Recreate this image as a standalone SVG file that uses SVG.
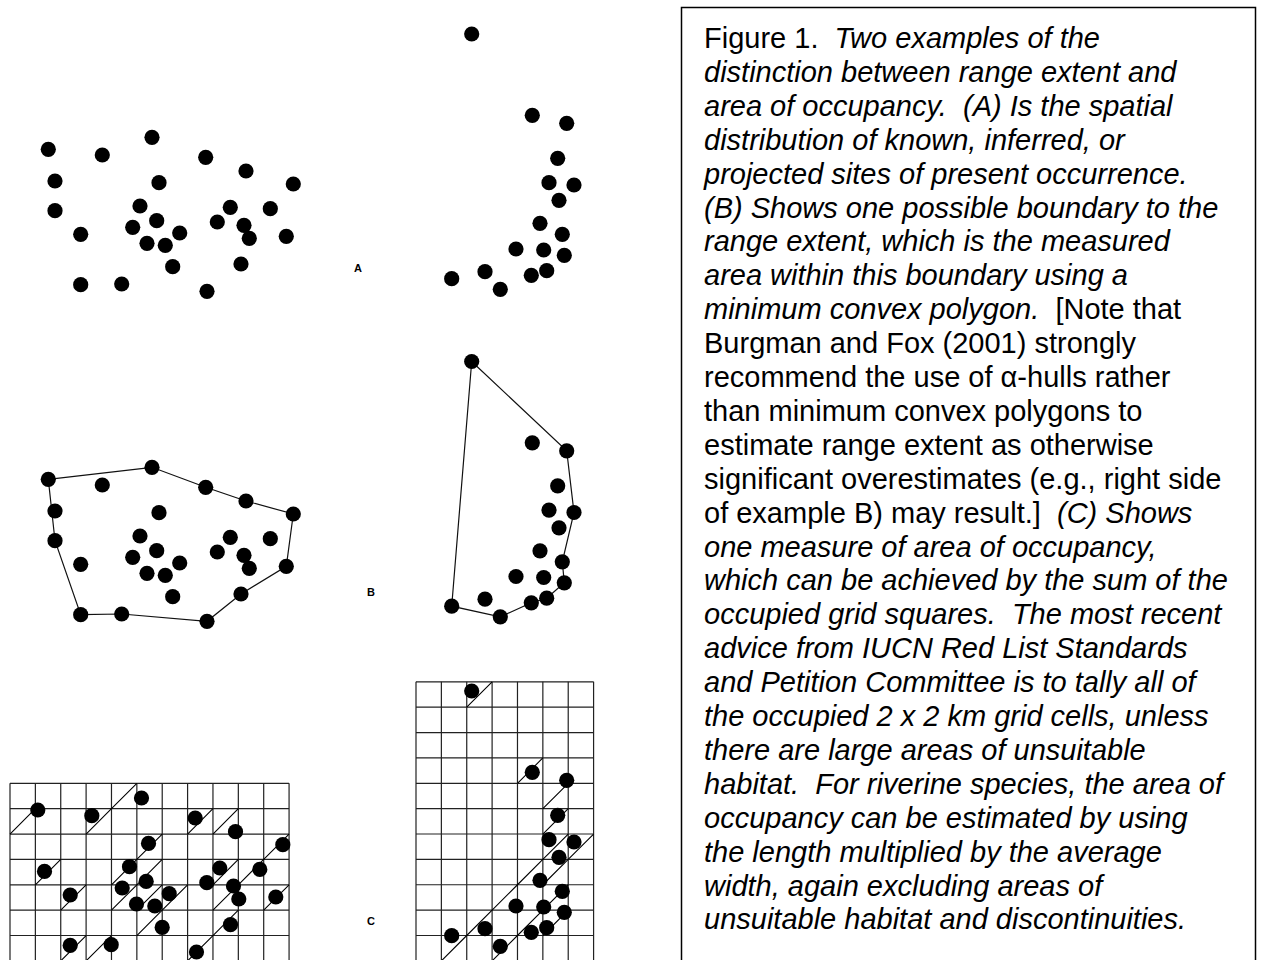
<svg xmlns="http://www.w3.org/2000/svg" xmlns:xlink="http://www.w3.org/1999/xlink" width="1261" height="960" viewBox="0 0 1261 960">
<style>
.dot{fill:#000}
.hull{fill:none;stroke:#111;stroke-width:1.2}
.grid{fill:none;stroke:#222;stroke-width:1.2}
.diag{fill:none;stroke:#000;stroke-width:1.1}
.lbl{font-family:"Liberation Sans",Arial,sans-serif;font-size:11px;font-weight:bold;text-anchor:middle}
.cap{font-family:"Liberation Sans",Arial,sans-serif;font-size:29px;fill:#000}
.it{font-style:italic}
.box{fill:none;stroke:#000;stroke-width:1.5}
</style>
<defs>
<g id="leftDots">
<circle class="dot" cx="48.3" cy="149.3" r="7.6"/>
<circle class="dot" cx="102.3" cy="155" r="7.6"/>
<circle class="dot" cx="152" cy="137.3" r="7.6"/>
<circle class="dot" cx="205.7" cy="157.3" r="7.6"/>
<circle class="dot" cx="246" cy="171" r="7.6"/>
<circle class="dot" cx="293.3" cy="184" r="7.6"/>
<circle class="dot" cx="159" cy="182.7" r="7.6"/>
<circle class="dot" cx="55" cy="210.7" r="7.6"/>
<circle class="dot" cx="140" cy="206" r="7.6"/>
<circle class="dot" cx="230.3" cy="207.3" r="7.6"/>
<circle class="dot" cx="270.3" cy="208.7" r="7.6"/>
<circle class="dot" cx="156.7" cy="220.7" r="7.6"/>
<circle class="dot" cx="132.7" cy="227.3" r="7.6"/>
<circle class="dot" cx="217.3" cy="222" r="7.6"/>
<circle class="dot" cx="244" cy="225.3" r="7.6"/>
<circle class="dot" cx="179.7" cy="233" r="7.6"/>
<circle class="dot" cx="80.7" cy="234.3" r="7.6"/>
<circle class="dot" cx="249.3" cy="238.3" r="7.6"/>
<circle class="dot" cx="286.3" cy="236.3" r="7.6"/>
<circle class="dot" cx="147" cy="243.3" r="7.6"/>
<circle class="dot" cx="165.3" cy="245.3" r="7.6"/>
<circle class="dot" cx="172.7" cy="266.7" r="7.6"/>
<circle class="dot" cx="241" cy="264" r="7.6"/>
<circle class="dot" cx="80.7" cy="284.7" r="7.6"/>
<circle class="dot" cx="121.7" cy="284" r="7.6"/>
<circle class="dot" cx="207" cy="291.3" r="7.6"/>
</g>
<circle id="extraDot" class="dot" cx="55" cy="181" r="7.6"/>
<g id="rightDots">
<circle class="dot" cx="471.7" cy="34" r="7.6"/>
<circle class="dot" cx="532.3" cy="115.3" r="7.6"/>
<circle class="dot" cx="566.7" cy="123.3" r="7.6"/>
<circle class="dot" cx="557.7" cy="158.3" r="7.6"/>
<circle class="dot" cx="549" cy="182.7" r="7.6"/>
<circle class="dot" cx="574" cy="185" r="7.6"/>
<circle class="dot" cx="559" cy="200.3" r="7.6"/>
<circle class="dot" cx="540" cy="223.3" r="7.6"/>
<circle class="dot" cx="562.3" cy="234.3" r="7.6"/>
<circle class="dot" cx="516" cy="249" r="7.6"/>
<circle class="dot" cx="543.7" cy="250" r="7.6"/>
<circle class="dot" cx="564.3" cy="255.3" r="7.6"/>
<circle class="dot" cx="485" cy="271.7" r="7.6"/>
<circle class="dot" cx="546.7" cy="270.7" r="7.6"/>
<circle class="dot" cx="531.3" cy="275.3" r="7.6"/>
<circle class="dot" cx="451.7" cy="278.7" r="7.6"/>
<circle class="dot" cx="500.3" cy="289.3" r="7.6"/>
</g>
</defs>

<g id="panelA">
<use xlink:href="#leftDots"/>
<use xlink:href="#extraDot"/>
<use xlink:href="#rightDots"/>
<text class="lbl" x="358" y="272">A</text>
</g>

<g id="panelB">
<g id="hulls">
<polygon class="hull" transform="translate(0,330)" points="48.3,149.3 152,137.3 205.7,157.3 246,171 293.3,184 286.3,236.3 241,264 207,291.3 121.7,284 80.7,284.7 55,210.7"/>
<polygon class="hull" transform="translate(0,327.5)" points="471.7,34 566.7,123.3 574,185 562.3,234.3 564.3,255.3 546.7,270.7 531.3,275.3 500.3,289.3 451.7,278.7"/>
</g>
<use xlink:href="#leftDots" transform="translate(0,330)"/>
<use xlink:href="#extraDot" transform="translate(0,330)"/>
<use xlink:href="#rightDots" transform="translate(0,327.5)"/>
<text class="lbl" x="371" y="596">B</text>
</g>

<g id="panelC">
<g id="gridLeft" class="grid">
<path d="M10 783.3H289.07M10 808.67H289.07M10 834.04H289.07M10 859.41H289.07M10 884.78H289.07M10 910.15H289.07M10 935.52H289.07"/>
<path d="M10 783.3V960M35.37 783.3V960M60.74 783.3V960M86.11 783.3V960M111.48 783.3V960M136.85 783.3V960M162.22 783.3V960M187.59 783.3V960M212.96 783.3V960M238.33 783.3V960M263.7 783.3V960M289.07 783.3V960"/>
</g>
<g id="gridRight" class="grid">
<path d="M416 681.8H593.59M416 707.17H593.59M416 732.54H593.59M416 757.91H593.59M416 783.28H593.59M416 808.65H593.59M416 834.02H593.59M416 859.39H593.59M416 884.76H593.59M416 910.13H593.59M416 935.5H593.59"/>
<path d="M416 681.8V960M441.37 681.8V960M466.74 681.8V960M492.11 681.8V960M517.48 681.8V960M542.85 681.8V960M568.22 681.8V960M593.59 681.8V960"/>
</g>
<g id="occupiedLeft" class="diag">
<path d="M10 834.04L35.37 808.67M86.11 834.04L111.48 808.67M111.48 808.67L136.85 783.3M187.59 834.04L212.96 808.67M212.96 834.04L238.33 808.67M136.85 859.41L162.22 834.04M263.7 859.41L289.07 834.04M35.37 884.78L60.74 859.41M111.48 884.78L136.85 859.41M136.85 884.78L162.22 859.41M212.96 884.78L238.33 859.41M238.33 884.78L263.7 859.41M60.74 910.15L86.11 884.78M111.48 910.15L136.85 884.78M136.85 910.15L162.22 884.78M162.22 910.15L187.59 884.78M212.96 910.15L238.33 884.78M263.7 910.15L289.07 884.78M136.85 935.52L162.22 910.15M212.96 935.52L238.33 910.15M60.74 960.89L86.11 935.52M86.11 960.89L111.48 935.52M187.59 960.89L212.96 935.52"/>
</g>
<g id="occupiedRight" class="diag">
<path d="M466.74 707.17L492.11 681.8M517.48 783.28L542.85 757.91M542.85 808.65L568.22 783.28M542.85 834.02L568.22 808.65M542.85 859.39L568.22 834.02M568.22 859.39L593.59 834.02M542.85 884.76L568.22 859.39M517.48 884.76L542.85 859.39M492.11 910.13L517.48 884.76M542.85 910.13L568.22 884.76M466.74 935.5L492.11 910.13M517.48 935.5L542.85 910.13M542.85 935.5L568.22 910.13M441.37 960.87L466.74 935.5M492.11 960.87L517.48 935.5"/>
</g>
<use xlink:href="#leftDots" transform="translate(-10.5,660.7)"/>
<use xlink:href="#rightDots" transform="translate(0,657)"/>
<text class="lbl" x="371" y="925">C</text>
</g>

<g id="caption">
<rect class="box" x="681.5" y="7.5" width="574" height="980"/>
<text class="cap" xml:space="preserve" x="704" y="48">Figure 1.  <tspan class="it">Two examples of the</tspan></text>
<text class="cap it" x="704" y="81.9">distinction between range extent and</text>
<text class="cap it" xml:space="preserve" x="704" y="115.8">area of occupancy.  (A) Is the spatial</text>
<text class="cap it" x="704" y="149.7">distribution of known, inferred, or</text>
<text class="cap it" x="704" y="183.6">projected sites of present occurrence.</text>
<text class="cap it" x="704" y="217.5">(B) Shows one possible boundary to the</text>
<text class="cap it" x="704" y="251.4">range extent, which is the measured</text>
<text class="cap it" x="704" y="285.3">area within this boundary using a</text>
<text class="cap" xml:space="preserve" x="704" y="319.2"><tspan class="it">minimum convex polygon.</tspan>  [Note that</text>
<text class="cap" x="704" y="353.1">Burgman and Fox (2001) strongly</text>
<text class="cap" x="704" y="387">recommend the use of α-hulls rather</text>
<text class="cap" x="704" y="420.9">than minimum convex polygons to</text>
<text class="cap" x="704" y="454.8">estimate range extent as otherwise</text>
<text class="cap" x="704" y="488.7">significant overestimates (e.g., right side</text>
<text class="cap" xml:space="preserve" x="704" y="522.6">of example B) may result.]  <tspan class="it">(C) Shows</tspan></text>
<text class="cap it" x="704" y="556.5">one measure of area of occupancy,</text>
<text class="cap it" x="704" y="590.4">which can be achieved by the sum of the</text>
<text class="cap it" xml:space="preserve" x="704" y="624.3">occupied grid squares.  The most recent</text>
<text class="cap it" x="704" y="658.2">advice from IUCN Red List Standards</text>
<text class="cap it" x="704" y="692.1">and Petition Committee is to tally all of</text>
<text class="cap it" x="704" y="726">the occupied 2 x 2 km grid cells, unless</text>
<text class="cap it" x="704" y="759.9">there are large areas of unsuitable</text>
<text class="cap it" xml:space="preserve" x="704" y="793.8">habitat.  For riverine species, the area of</text>
<text class="cap it" x="704" y="827.7">occupancy can be estimated by using</text>
<text class="cap it" x="704" y="861.6">the length multiplied by the average</text>
<text class="cap it" x="704" y="895.5">width, again excluding areas of</text>
<text class="cap it" x="704" y="929.4">unsuitable habitat and discontinuities.</text>
</g>
</svg>
